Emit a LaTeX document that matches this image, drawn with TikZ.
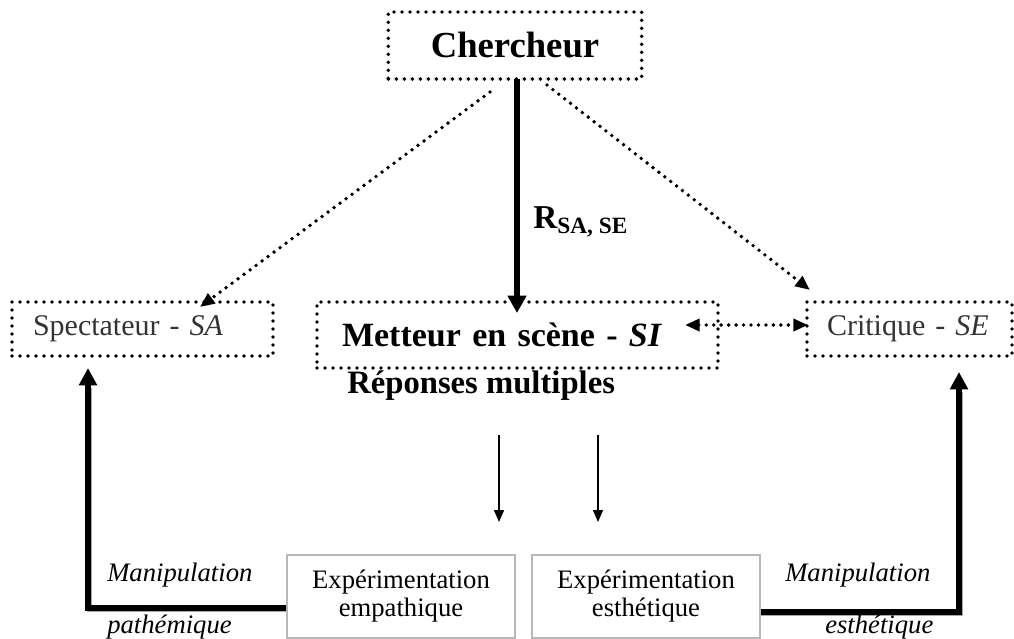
\documentclass[tikz,border=0pt]{standalone}
\usepackage{fontspec}
\setmainfont{Liberation Serif}
\usetikzlibrary{arrows.meta,calc}
\begin{document}
\begin{tikzpicture}[x=0.75pt,y=-0.75pt,
  dotbox/.style={draw, line width=2.9pt, dash pattern=on 0pt off 6pt, line cap=round, inner ysep=0pt, outer sep=0pt},
  dotline/.style={line width=2.9pt, dash pattern=on 0pt off 5.6pt, line cap=round},
  greybox/.style={draw=black!28, line width=1.1pt, fill=white, outer sep=0pt, align=center, inner sep=0pt},
  thk/.style={line width=4.3pt},
  shadowline/.style={line width=4.3pt, draw=black!35},
  bigtip/.style={-{Triangle[length=13pt,width=13pt]}},
  midtip/.style={-{Triangle[length=11pt,width=9pt]}},
  thintip/.style={-{Triangle[length=9pt,width=7.5pt]}},
  bodyfont/.style={font=\fontsize{20}{24}\selectfont},
  sidefont/.style={font=\fontsize{22.5}{26}\selectfont, text=black!80},
  headfont/.style={font=\fontsize{25.5}{30}\selectfont\bfseries}
]
\useasboundingbox (0,0) rectangle (1014,639);

% top box
\node[dotbox, minimum width=190pt, minimum height=50.25pt, font=\fontsize{27.5}{32}\selectfont\bfseries] (cher) at (515,45.5) {Chercheur};

% middle boxes
\node[dotbox, anchor=north west, minimum height=40.5pt, text width=164.25pt, inner xsep=15.75pt, align=left, sidefont] (spec) at (12,302) {Spectateur - \textit{SA}};
\node[dotbox, anchor=north west, minimum height=49.5pt, text width=263.25pt, inner xsep=18.75pt, align=left, headfont] (met) at (317,302) {Metteur en scène - \textit{SI}};
\node[dotbox, anchor=north west, minimum height=40.5pt, text width=123.75pt, inner xsep=15pt, align=left, sidefont] (crit) at (807,302) {Critique - \textit{SE}};

% label under
\node[font=\fontsize{24.5}{28}\selectfont\bfseries, anchor=west, inner sep=0pt] (rep) at (347,386) {Réponses multiples};

% R label
\node[anchor=west, inner sep=0pt, font=\fontsize{25}{30}\selectfont\bfseries] (rlab) at (533,222) {R\textsubscript{SA, SE}};

% coordinates
\coordinate (cl) at (490,92);
\coordinate (cr) at (547,85);
\coordinate (specin) at (200,307);
\coordinate (critin) at (810,290);
\coordinate (ctop) at (517,79);
\coordinate (metin) at (517,313);
\coordinate (dl) at (685,325);
\coordinate (dr) at (808,325);
\coordinate (ta1) at (499,435);
\coordinate (tb1) at (499,522);
\coordinate (ta2) at (598,435);
\coordinate (tb2) at (598,522);
\coordinate (lh) at (287,608);
\coordinate (lv) at (88,608);
\coordinate (ltip) at (88,368);
\coordinate (rh) at (760,612);
\coordinate (rv) at (959,612);
\coordinate (rtip) at (959,372);

% connectors
\draw[thk, -{Triangle[length=13pt,width=13.5pt]}] (ctop) -- (metin);
\draw[dotline, midtip] (cl) -- (specin);
\draw[dotline, midtip] (cr) -- (critin);
\draw[dotline, {Triangle[length=11pt,width=9pt]}-{Triangle[length=11pt,width=9pt]}] (dl) -- (dr);
\draw[line width=1.1pt, thintip] (ta1) -- (tb1);
\draw[line width=1.1pt, thintip] (ta2) -- (tb2);

% thick feedback lines with shadow
\draw[shadowline] ($(lh)+(0,1.5)$) -- ($(lv)+(1.5,1.5)$) -- ($(ltip)+(1.5,20)$);
\draw[shadowline] ($(rh)+(0,1.5)$) -- ($(rv)+(1.5,1.5)$) -- ($(rtip)+(1.5,20)$);
\draw[thk, bigtip] (lh) -- (lv) -- (ltip);
\draw[thk, bigtip] (rh) -- (rv) -- (rtip);

% bottom boxes
\node[greybox, anchor=north west, minimum width=171pt, minimum height=62.25pt, bodyfont] (exa) at (287,555) {Expérimentation\\[-3pt]empathique};
\node[greybox, anchor=north west, minimum width=171pt, minimum height=62.25pt, bodyfont] (exb) at (532,555) {Expérimentation\\[-3pt]esthétique};

% italic labels
\node[bodyfont, anchor=west, inner sep=0pt] (m1) at (107,575) {\itshape Manipulation};
\node[bodyfont, anchor=west, inner sep=0pt] (p1) at (107,627) {\itshape pathémique};
\node[bodyfont, anchor=west, inner sep=0pt] (m2) at (785,575) {\itshape Manipulation};
\node[bodyfont, anchor=west, inner sep=0pt] (e2) at (825,627) {\itshape esthétique};
\end{tikzpicture}
\end{document}
